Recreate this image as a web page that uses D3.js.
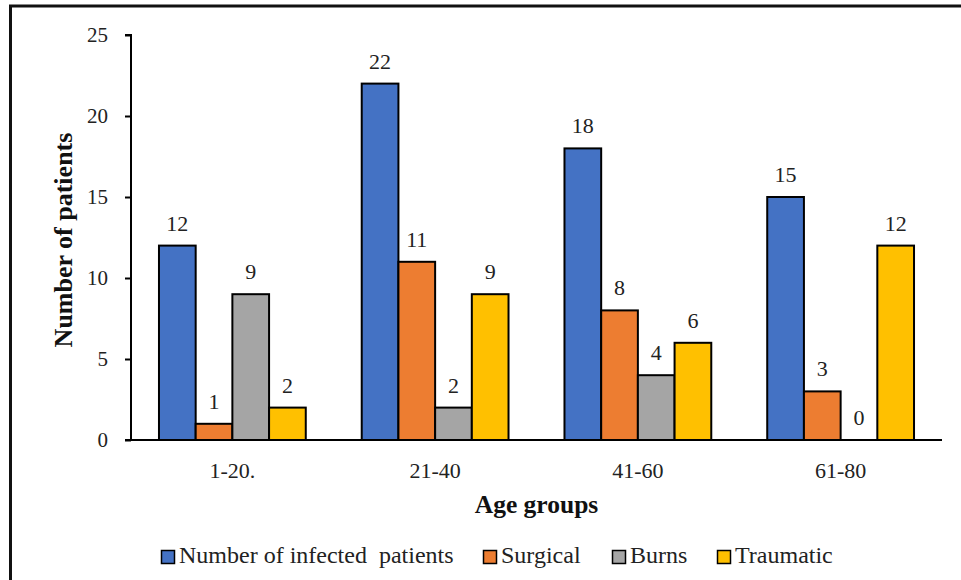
<!DOCTYPE html>
<html><head><meta charset="utf-8">
<script src="https://cdn.jsdelivr.net/npm/d3@7"></script>
<style>body{margin:0;background:#fff}svg{display:block}text{font-family:"Liberation Serif","Times New Roman",serif}</style>
</head><body>
<svg id="c" width="961" height="580"></svg>
<script>
const categories = ["1-20.", "21-40", "41-60", "61-80"];
const seriesNames = ["Number of infected  patients", "Surgical", "Burns", "Traumatic"];
const infected = [12, 22, 18, 15];
const surgical = [1, 11, 8, 3];
const burns = [9, 2, 4, 0];
const traumatic = [2, 9, 6, 12];
const yTicks = [0, 5, 10, 15, 20, 25];
const colors = ["#4472C4", "#ED7D31", "#A5A5A5", "#FFC000"];

const FONT = '"Liberation Serif","Times New Roman",serif';
const series = [infected, surgical, burns, traumatic];
const svg = d3.select("#c");
// frame (left and top only)
svg.append("line").attr("x1",10.5).attr("x2",10.5).attr("y1",5).attr("y2",580).attr("stroke","#111").attr("stroke-width",3);
svg.append("line").attr("x1",9).attr("x2",961).attr("y1",6).attr("y2",6).attr("stroke","#111").attr("stroke-width",3);

const pLeft = 131, pRight = 942, pTop = 35, pBottom = 440;
const y = d3.scaleLinear().domain([0,25]).range([pBottom, pTop]);
const x0 = d3.scaleBand().domain(categories).range([pLeft, pRight]).paddingInner(0.276).paddingOuter(0.138);
const x1 = d3.scaleBand().domain(d3.range(4)).range([0, x0.bandwidth()]);

const g = svg.append("g");
categories.forEach((c, i) => {
  series.forEach((s, j) => {
    const v = s[i];
    const bx = x0(c) + x1(j);
    g.append("rect").attr("x", bx).attr("y", y(v)).attr("width", x1.bandwidth()).attr("height", pBottom - y(v))
      .attr("fill", colors[j]).attr("stroke", "#000").attr("stroke-width", 2);
    g.append("text").attr("x", bx + x1.bandwidth()/2).attr("y", y(v) - 15).attr("text-anchor","middle")
      .attr("font-family", FONT).attr("font-size", 22).attr("fill","#222").text(v);
  });
});

// y axis
const ya = svg.append("g").attr("transform", `translate(${pLeft},0)`)
  .call(d3.axisLeft(y).tickValues(yTicks).tickSize(6).tickPadding(17).tickFormat(d3.format("d")));
ya.attr("font-family", FONT);
ya.select(".domain").attr("stroke","#000").attr("stroke-width",2).attr("d", `M-6,${pTop}H0V${pBottom}`);
ya.selectAll(".tick line").attr("stroke","#000").attr("stroke-width",2);
ya.selectAll("text").attr("font-size",21).attr("fill","#222").attr("font-family",FONT);

// x axis
const xa = svg.append("g").attr("transform", `translate(0,${pBottom})`)
  .call(d3.axisBottom(x0).tickSize(0));
xa.attr("font-family", FONT);
xa.select(".domain").attr("stroke","#000").attr("stroke-width",2).attr("d", `M${pLeft-6},0H${pRight}`);
xa.selectAll("text").attr("font-size",22).attr("fill","#222").attr("font-family",FONT)
  .attr("dy", null).attr("y", 38);

// axis titles
svg.append("text").attr("x", (pLeft+pRight)/2).attr("y", 513).attr("text-anchor","middle")
  .attr("font-family", FONT).attr("font-size",25.5).attr("font-weight","bold").attr("fill","#111").text("Age groups");
svg.append("text").attr("transform", `translate(72,240) rotate(-90)`).attr("text-anchor","middle")
  .attr("font-family", FONT).attr("font-size",26).attr("font-weight","bold").attr("fill","#111").text("Number of patients");

// legend
const legX = [161, 483, 612, 717];
seriesNames.forEach((n, j) => {
  svg.append("rect").attr("x", legX[j]+0.5).attr("y", 550.5).attr("width", 13).attr("height", 13)
    .attr("fill", colors[j]).attr("stroke","#000").attr("stroke-width",1.5);
  svg.append("text").attr("x", legX[j]+18).attr("y", 563).attr("font-size",24).attr("fill","#222")
    .attr("font-family", FONT).style("white-space","pre").text(n);
});
</script>
</body></html>
